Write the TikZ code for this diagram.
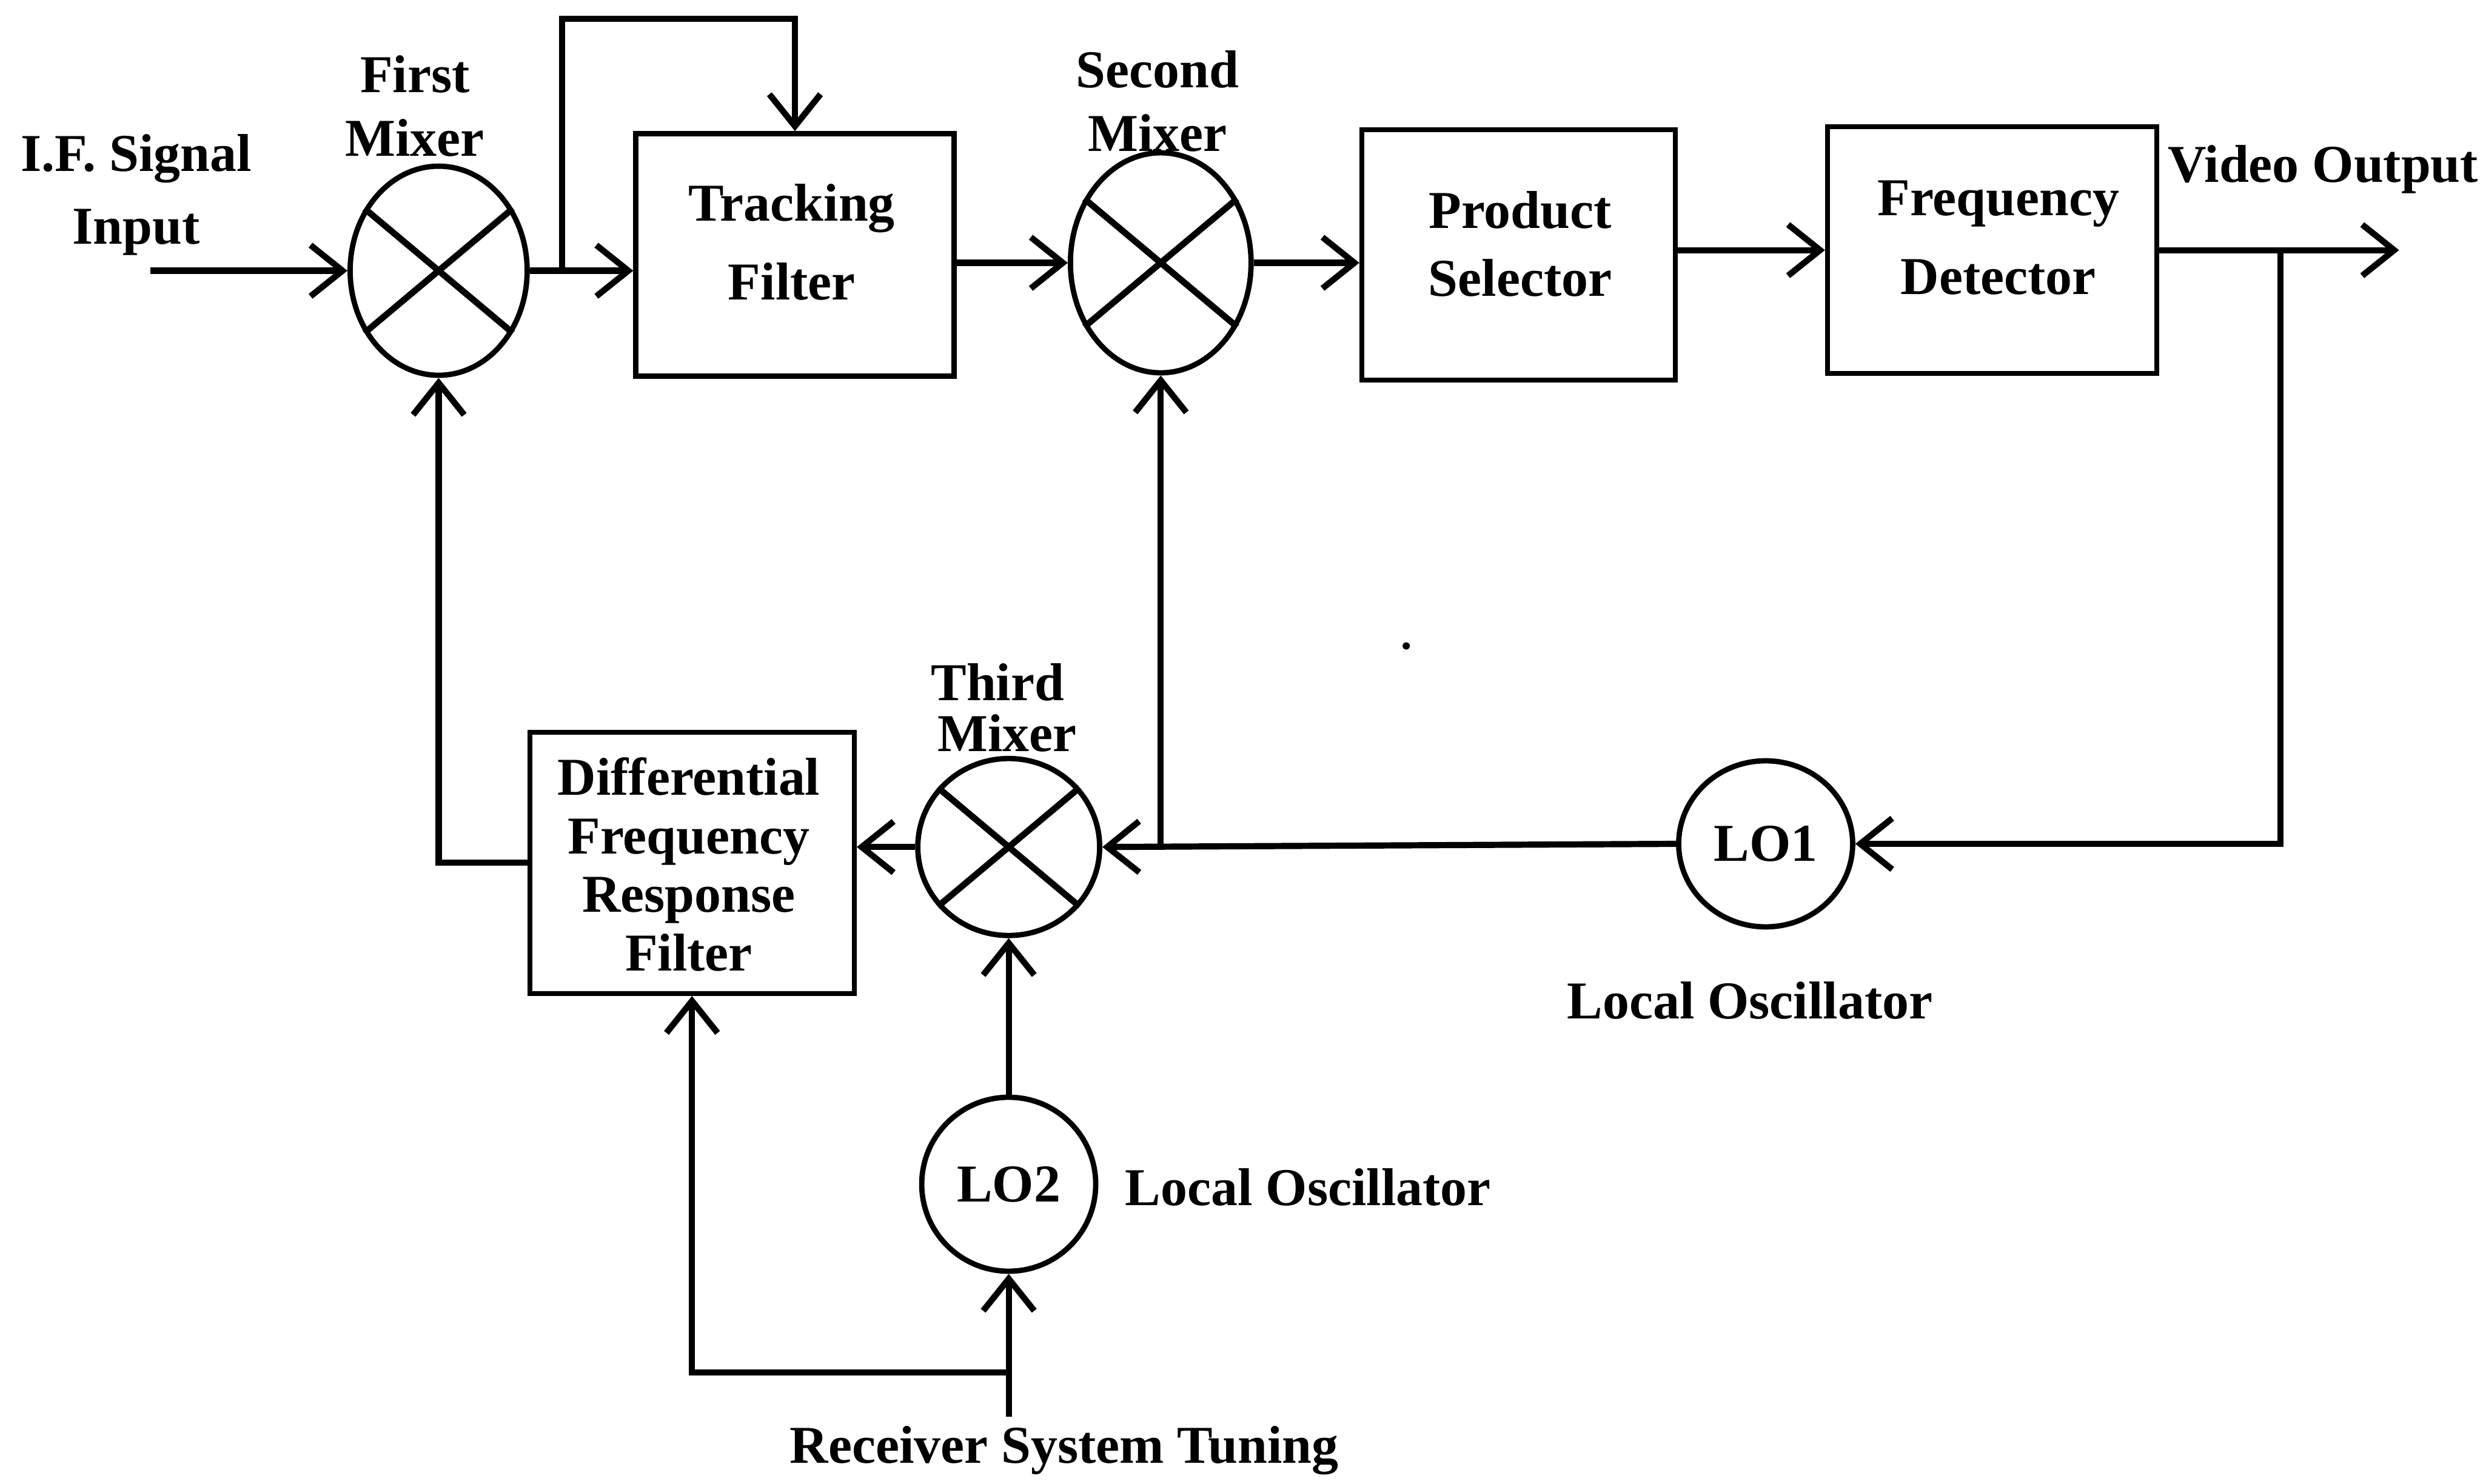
\documentclass[tikz,border=0pt]{standalone}
\usepackage{fontspec}
\setmainfont{Liberation Serif}
\usetikzlibrary{arrows.meta,shapes.geometric,calc}
\newcommand{\fs}[1]{\fontsize{25}{#1}\selectfont\bfseries}
\tikzset{
  blk/.style={draw, line width=2.4pt, rectangle, inner sep=0pt},
  mix/.style={draw, line width=2.5pt, ellipse, inner sep=0pt},
  osc/.style={draw, line width=2.5pt, ellipse, inner sep=0pt, font=\fs{30}},
  lbl/.style={align=center, inner sep=0pt, font=\fs{30}},
  conn/.style={line width=2.9pt, -{Straight Barb[length=15pt,width=24pt,line width=2.9pt]}},
  cross/.style={line width=3pt},
}
\begin{document}
\begin{tikzpicture}[x=0.026116cm, y=-0.026116cm]
\useasboundingbox (0,0) rectangle (1568,937);
% mixers
\node[mix, minimum width=2.92cm, minimum height=3.45cm] (m1) at (277,171) {};
\node[mix, minimum width=2.98cm, minimum height=3.63cm] (m2) at (733,166) {};
\node[mix, minimum width=3.00cm, minimum height=2.92cm] (m3) at (637,535) {};
\foreach \m in {m1,m2,m3}{
  \draw[cross] (\m.40) -- (\m.220);
  \draw[cross] (\m.140) -- (\m.320);
}
% oscillators
\node[osc, minimum width=2.87cm, minimum height=2.74cm] (lo1) at (1115,533) {LO1};
\node[osc, minimum width=2.87cm, minimum height=2.87cm] (lo2) at (637,748) {LO2};
% blocks
\node[blk, minimum width=5.25cm, minimum height=4.0cm] (tf) at (502,161) {};
\node[blk, minimum width=5.17cm, minimum height=4.13cm] (ps) at (959,161) {};
\node[blk, minimum width=5.43cm, minimum height=4.07cm] (fd) at (1258,158) {};
\node[blk, minimum width=5.35cm, minimum height=4.31cm] (df) at (437,545) {};
% block texts
\node[lbl, font=\fs{37}] (tft) at (500,153) {Tracking\\Filter};
\node[lbl, font=\fs{32}] (pst) at (960,154) {Product\\Selector};
\node[lbl, font=\fs{37}] (fdt) at (1262,150) {Frequency\\Detector};
\node[lbl, font=\fs{27.5}] (dft) at (435,546) {Differential\\Frequency\\Response\\Filter};
% labels
\node[lbl, font=\fs{34}] (ifl) at (86,123) {I.F. Signal\\Input};
\node[lbl, font=\fs{30}] (m1l) at (262,67) {First\\Mixer};
\node[lbl, font=\fs{30}] (m2l) at (731,64) {Second\\Mixer};
\node[lbl] (m3la) at (630,431) {Third};
\node[lbl] (m3lb) at (636,463) {Mixer};
\node[lbl] (vol) at (1467,107) {Video Output};
\node[lbl] (lo1l) at (1105,632) {Local Oscillator};
\node[lbl] (lo2l) at (826,750) {Local Oscillator};
\node[lbl] (rst) at (672,916) {Receiver System Tuning};
% coordinates
\coordinate (in) at (95,171);
\coordinate (j1) at (355,171);
\coordinate (out) at (1515,158);
\coordinate (j2) at (1440,158);
\coordinate (j3) at (m2.south |- m3.east);
\coordinate (rt) at (637,895);
\coordinate (j4) at (637,867);
% connectors
\draw[conn] (in) -- (m1.west);
\draw[conn] (m1.east) -- (tf.west |- m1.east);
\draw[conn] (j1) -- (355,12) -| (tf.north);
\draw[conn] (tf.east |- m2.west) -- (m2.west);
\draw[conn] (m2.east) -- (ps.west |- m2.east);
\draw[conn] (ps.east |- fd.west) -- (fd.west);
\draw[conn] (fd.east) -- (out);
\draw[conn] (j2) |- (lo1.east);
\draw[conn] (lo1.west) -- (m3.east);
\draw[conn] (j3) -- (m2.south);
\draw[conn] (m3.west) -- (df.east |- m3.west);
\draw[conn] (df.west) -| (m1.south);
\draw[conn] (lo2.north) -- (m3.south);
\draw[conn] (rt) -- (lo2.south);
\draw[conn] (j4) -| (df.south);
% stray speck
\fill (888,408) circle (0.06cm);
\end{tikzpicture}
\end{document}
